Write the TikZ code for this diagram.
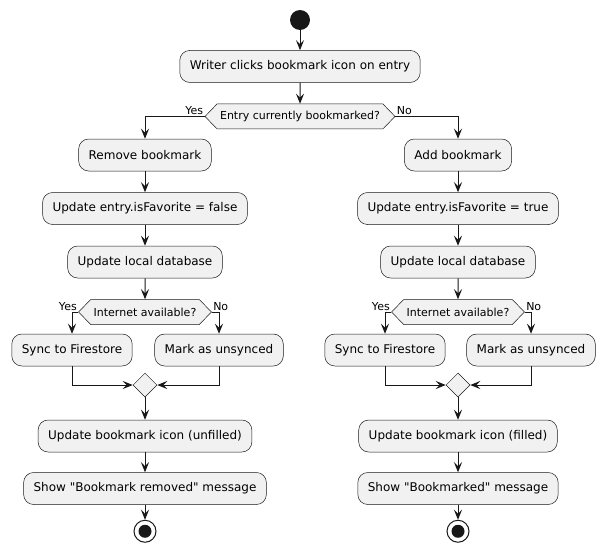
\documentclass[tikz,border=0pt]{standalone}
\usepackage{fontspec}
\newfontfamily\umlfont{DejaVu Sans}
\usetikzlibrary{shapes.geometric, shapes.symbols, arrows.meta, positioning}

\definecolor{umlfill}{HTML}{F1F1F1}
\definecolor{umlline}{HTML}{181818}

\begin{document}
\begin{tikzpicture}[
    x=1pt, y=1pt,
    node distance=21pt,
    act/.style={draw=umlline, fill=umlfill, rounded corners=10pt, minimum height=32pt, inner xsep=10pt, line width=0.5pt, font=\umlfont\fontsize{12}{14}\selectfont},
    test/.style={draw=umlline, fill=umlfill, signal, signal to=west and east, signal pointer angle=92, minimum height=25pt, inner xsep=3pt, inner ysep=2pt, line width=0.5pt, font=\umlfont\fontsize{11}{13}\selectfont},
    merge/.style={draw=umlline, fill=umlfill, diamond, minimum width=24pt, minimum height=24pt, inner sep=0pt, line width=0.5pt},
    flow/.style={-{Stealth[length=10pt, width=8pt, inset=4pt]}, line width=1pt, draw=umlline},
    branch/.style={font=\umlfont\fontsize{11}{13}\selectfont, inner sep=1pt},
    startnode/.style={circle, fill=umlline, minimum size=20pt, inner sep=0pt},
    stopnode/.style={circle, draw=umlline, line width=1pt, fill=white, minimum size=22pt, inner sep=0pt,
        path picture={\fill[umlline] (path picture bounding box.center) circle (6.5pt);}}
]
\useasboundingbox (0,0) rectangle (605,-557);

% --- Inicio ---
\node (start) [startnode] at (300,-20) {};
\node (click) [act, below=20pt of start] {Writer clicks bookmark icon on entry};
\node (ask) [test, below=of click] {Entry currently bookmarked?};

% --- Rama izquierda (Yes) ---
\node (remove) [act] at (145,-155) {Remove bookmark};
\node (favL) [act, below=of remove] {Update entry.isFavorite = false};
\node (dbL) [act, below=of favL] {Update local database};
\node (netL) [test, below=of dbL] {Internet available?};
\node (syncL) [act] at (72,-350) {Sync to Firestore};
\node (unsyncL) [act] at (219,-350) {Mark as unsynced};
\node (mergeL) [merge] at (145,-385) {};
\node (iconL) [act] at (145,-436) {Update bookmark icon (unfilled)};
\node (msgL) [act, below=20pt of iconL] {Show "Bookmark removed" message};
\node (stopL) [stopnode, below=15pt of msgL] {};

% --- Rama derecha (No) ---
\node (add) [act] at (458,-155) {Add bookmark};
\node (favR) [act, below=of add] {Update entry.isFavorite = true};
\node (dbR) [act, below=of favR] {Update local database};
\node (netR) [test, below=of dbR] {Internet available?};
\node (syncR) [act] at (385,-350) {Sync to Firestore};
\node (unsyncR) [act] at (531,-350) {Mark as unsynced};
\node (mergeR) [merge] at (458,-385) {};
\node (iconR) [act] at (458,-436) {Update bookmark icon (filled)};
\node (msgR) [act, below=20pt of iconR] {Show "Bookmarked" message};
\node (stopR) [stopnode, below=15pt of msgR] {};

% --- Conexiones ---
\draw [flow] (start) -- (click);
\draw [flow] (click) -- (ask);
\draw [flow] (ask.west) node[branch, anchor=south east] {Yes} -| (remove);
\draw [flow] (ask.east) node[branch, anchor=south west] {No} -| (add);

% izquierda
\draw [flow] (remove) -- (favL);
\draw [flow] (favL) -- (dbL);
\draw [flow] (dbL) -- (netL);
\draw [flow] (netL.west) node[branch, anchor=south east] {Yes} -| (syncL);
\draw [flow] (netL.east) node[branch, anchor=south west] {No} -| (unsyncL);
\draw [flow] (syncL) |- (mergeL);
\draw [flow] (unsyncL) |- (mergeL);
\draw [flow] (mergeL) -- (iconL);
\draw [flow] (iconL) -- (msgL);
\draw [flow] (msgL) -- (stopL);

% derecha
\draw [flow] (add) -- (favR);
\draw [flow] (favR) -- (dbR);
\draw [flow] (dbR) -- (netR);
\draw [flow] (netR.west) node[branch, anchor=south east] {Yes} -| (syncR);
\draw [flow] (netR.east) node[branch, anchor=south west] {No} -| (unsyncR);
\draw [flow] (syncR) |- (mergeR);
\draw [flow] (unsyncR) |- (mergeR);
\draw [flow] (mergeR) -- (iconR);
\draw [flow] (iconR) -- (msgR);
\draw [flow] (msgR) -- (stopR);

\end{tikzpicture}
\end{document}
